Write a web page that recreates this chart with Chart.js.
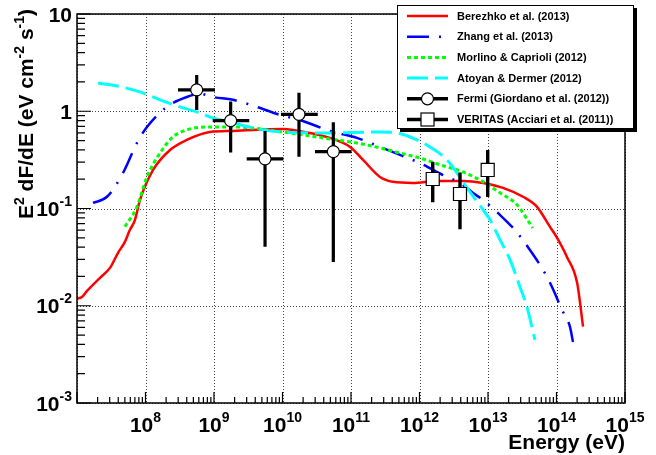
<!DOCTYPE html>
<html>
<head>
<meta charset="utf-8">
<script src="https://cdn.jsdelivr.net/npm/chart.js@4.4.1/dist/chart.umd.min.js"></script>
<style>
  html, body { margin: 0; padding: 0; background: #fff; }
  #wrap { width: 656px; height: 455px; }
</style>
</head>
<body>
<div id="wrap"><canvas id="sed" width="656" height="455"></canvas></div>
<script>
// Berezhko et al. (2013), solid red
const berezhkoE = [1e7, 1.18e7, 1.4e7, 2.17e7, 3.03e7, 3.97e7, 5.0e7, 5.9e7, 7.0e7, 8.3e7, 1.29e8, 2.28e8, 4.0e8, 8.7e8, 1.9e9, 1.0e10, 1.42e10, 4.9e10, 9.7e10, 1.5e11, 2.65e11, 4.1e11, 8.0e11, 1.8e12, 4.3e12, 8.5e12, 1.66e13, 3.24e13, 5.2e13, 8.0e13, 1.0e14, 1.42e14, 2.0e14, 2.44e14];
const berezhkoF = [0.0118, 0.0123, 0.0142, 0.0194, 0.0245, 0.035, 0.0454, 0.060, 0.076, 0.122, 0.249, 0.40, 0.507, 0.612, 0.628, 0.658, 0.643, 0.532, 0.43, 0.316, 0.211, 0.188, 0.183, 0.192, 0.192, 0.183, 0.163, 0.132, 0.104, 0.065, 0.051, 0.0318, 0.0172, 0.0061];

// Zhang et al. (2013), blue dash-dot
const zhangE = [1.71e7, 2.74e7, 4.7e7, 7.5e7, 1.05e8, 2.06e8, 4.0e8, 6.25e8, 9.7e8, 1.9e9, 4.2e9, 9.2e9, 1.8e10, 4.9e10, 1.22e11, 2.65e11, 5.2e11, 1.0e12, 2.2e12, 3.9e12, 6.0e12, 8.5e12, 1.35e13, 1.9e13, 2.48e13, 3.84e13, 6.35e13, 8.6e13, 1.2e14, 1.57e14, 1.74e14];
const zhangF = [0.114, 0.132, 0.232, 0.472, 0.69, 1.11, 1.40, 1.51, 1.40, 1.31, 1.11, 0.916, 0.814, 0.628, 0.532, 0.43, 0.356, 0.294, 0.221, 0.183, 0.145, 0.122, 0.092, 0.0728, 0.060, 0.040, 0.0234, 0.0156, 0.0091, 0.0061, 0.00425];

// Morlino & Caprioli (2012), green dotted
const morlinoE = [5.0e7, 7.5e7, 1.05e8, 1.63e8, 2.52e8, 4.0e8, 7.9e8, 1.9e9, 1.0e10, 4.9e10, 1.22e11, 2.65e11, 5.2e11, 1.0e12, 2.0e12, 4.3e12, 8.5e12, 1.5e13, 2.65e13, 4.5e13];
const morlinoF = [0.065, 0.104, 0.211, 0.372, 0.545, 0.643, 0.69, 0.69, 0.612, 0.519, 0.472, 0.42, 0.372, 0.331, 0.281, 0.238, 0.188, 0.145, 0.109, 0.063];

// Atoyan & Dermer (2012), cyan long dash
const atoyanE = [2.03e7, 3.84e7, 8.3e7, 1.63e8, 3.19e8, 6.25e8, 9.7e8, 1.9e9, 3.7e9, 1.0e10, 4.9e10, 2.65e11, 4.7e11, 9.2e11, 1.42e12, 2.52e12, 3.52e12, 5.45e12, 8.5e12, 1.07e13, 1.5e13, 2.1e13, 2.93e13, 3.7e13, 4.85e13];
const atoyanF = [1.95, 1.82, 1.58, 1.31, 1.11, 0.96, 0.853, 0.759, 0.673, 0.612, 0.598, 0.612, 0.598, 0.507, 0.43, 0.316, 0.232, 0.148, 0.0968, 0.0764, 0.0476, 0.0296, 0.0156, 0.00975, 0.00446];

// Fermi points (Giordano et al. 2012)
const fermiE = [5.59e8, 1.75e9, 5.56e9, 1.74e10, 5.52e10];
const fermiElo = [2.98e8, 9.57e8, 3.0e9, 9.5e9, 2.98e10];
const fermiEhi = [1.035e9, 3.27e9, 1.03e10, 3.27e10, 1.02e11];
const fermiF = [1.66, 0.80, 0.324, 0.93, 0.385];
const fermiFlo = [1.03, 0.376, 0.0405, 0.341, 0.0281];
const fermiFhi = [2.36, 1.26, 0.628, 1.55, 0.771];

// VERITAS points (Acciari et al. 2011)
const veritasE = [1.56e12, 3.9e12, 9.9e12];
const veritasF = [0.201, 0.141, 0.249];
const veritasFlo = [0.116, 0.0612, 0.131];
const veritasFhi = [0.303, 0.234, 0.40];

// axis decades
const xExps = [7, 8, 9, 10, 11, 12, 13, 14, 15];
const xLabelExps = [8, 9, 10, 11, 12, 13, 14, 15];
const yExps = [-3, -2, -1, 0, 1];

const legendLabels = ['Berezhko et al. (2013)', 'Zhang et al. (2013)', 'Morlino & Caprioli (2012)',
  'Atoyan & Dermer (2012)', 'Fermi (Giordano et al. (2012))', 'VERITAS (Acciari et al. (2011))'];

const FONT = '"Liberation Sans", Arial, Helvetica, sans-serif';

function pairs(xs, ys) {
  return xs.map((x, i) => ({ x: x, y: ys[i] }));
}

// error bars as broken line segments (null y breaks the line)
function errorSegments(xs, xlo, xhi, ys, ylo, yhi) {
  const pts = [];
  xs.forEach((x, i) => {
    if (xlo) {
      pts.push({ x: xlo[i], y: ys[i] }, { x: xhi[i], y: ys[i] }, { x: x, y: null });
    }
    pts.push({ x: x, y: ylo[i] }, { x: x, y: yhi[i] }, { x: x, y: null });
  });
  return pts;
}

function drawRuns(ctx, runs, x, y, align) {
  let w = 0;
  runs.forEach(r => {
    ctx.font = 'bold ' + r.size + 'px ' + FONT;
    r.w = ctx.measureText(r.t).width;
    w += r.w;
  });
  let cx = x;
  if (align === 'right') cx = x - w;
  if (align === 'center') cx = x - w / 2;
  runs.forEach(r => {
    ctx.font = 'bold ' + r.size + 'px ' + FONT;
    ctx.fillText(r.t, cx, y - (r.up || 0));
    cx += r.w;
  });
  return w;
}

function powRuns(e) {
  if (e === 0) return [{ t: '1', size: 21 }];
  if (e === 1) return [{ t: '10', size: 21 }];
  return [{ t: '10', size: 21 }, { t: String(e), size: 14, up: 10 }];
}

const gridPlugin = {
  id: 'rootGrid',
  beforeDatasetsDraw(chart) {
    const ctx = chart.ctx, a = chart.chartArea;
    const xs = chart.scales.x, ys = chart.scales.y;
    ctx.save();
    ctx.strokeStyle = '#444';
    ctx.lineWidth = 1;
    ctx.setLineDash([1, 2]);
    xExps.forEach(e => {
      const px = Math.round(xs.getPixelForValue(Math.pow(10, e))) + 0.5;
      ctx.beginPath(); ctx.moveTo(px, a.top); ctx.lineTo(px, a.bottom); ctx.stroke();
    });
    yExps.forEach(e => {
      const py = Math.round(ys.getPixelForValue(Math.pow(10, e))) + 0.5;
      ctx.beginPath(); ctx.moveTo(a.left, py); ctx.lineTo(a.right, py); ctx.stroke();
    });
    ctx.restore();
  },
  afterDatasetsDraw(chart) {
    const ctx = chart.ctx, a = chart.chartArea;
    const xs = chart.scales.x, ys = chart.scales.y;
    ctx.save();
    // frame
    ctx.strokeStyle = '#000';
    ctx.lineWidth = 1.5;
    ctx.strokeRect(a.left, a.top, a.right - a.left, a.bottom - a.top);

    // ticks
    ctx.lineWidth = 1.2;
    ctx.beginPath();
    xExps.forEach(e => {
      for (let m = 1; m <= 9; m++) {
        const v = m * Math.pow(10, e);
        if (v < xs.min || v > xs.max) continue;
        const px = xs.getPixelForValue(v);
        const len = m === 1 ? 11 : 6;
        ctx.moveTo(px, a.bottom); ctx.lineTo(px, a.bottom - len);
      }
    });
    yExps.forEach(e => {
      for (let m = 1; m <= 9; m++) {
        const v = m * Math.pow(10, e);
        if (v < ys.min || v > ys.max * 1.0001) continue;
        const py = ys.getPixelForValue(v);
        const len = m === 1 ? 14 : 8;
        ctx.moveTo(a.left, py); ctx.lineTo(a.left + len, py);
      }
    });
    ctx.stroke();

    // tick labels
    ctx.fillStyle = '#000';
    ctx.textBaseline = 'alphabetic';
    xLabelExps.forEach(e => {
      const px = xs.getPixelForValue(Math.pow(10, e));
      drawRuns(ctx, powRuns(e), px, a.bottom + 29, 'center');
    });
    yExps.forEach(e => {
      const py = ys.getPixelForValue(Math.pow(10, e));
      drawRuns(ctx, powRuns(e), a.left - 5, py + 7.5, 'right');
    });

    // axis titles
    drawRuns(ctx, [{ t: 'Energy (eV)', size: 21 }], a.right, 449, 'right');
    const yTitle = [
      { t: 'E', size: 21 }, { t: '2', size: 14, up: 9 },
      { t: ' dF/dE (eV cm', size: 21 }, { t: '-2', size: 14, up: 9 },
      { t: ' s', size: 21 }, { t: '-1', size: 14, up: 9 }, { t: ')', size: 21 }
    ];
    let tw = 0;
    yTitle.forEach(r => { ctx.font = 'bold ' + r.size + 'px ' + FONT; tw += ctx.measureText(r.t).width; });
    ctx.save();
    ctx.translate(33, 9 + tw);
    ctx.rotate(-Math.PI / 2);
    drawRuns(ctx, yTitle, 0, 0, 'left');
    ctx.restore();

    // legend box
    const bx = 397, by = 5, bw = 236, bh = 123;
    ctx.fillStyle = '#000';
    ctx.fillRect(bx + 3, by + 3, bw + 1, bh + 1);
    ctx.fillStyle = '#fff';
    ctx.fillRect(bx, by, bw, bh);
    ctx.strokeStyle = '#000';
    ctx.lineWidth = 1;
    ctx.strokeRect(bx + 0.5, by + 0.5, bw, bh);

    const styles = [
      { color: '#ff0000', width: 2.5, dash: [] },
      { color: '#0000ff', width: 2.5, dash: [22, 10, 2, 10] },
      { color: '#00ff00', width: 3, dash: [4, 3] },
      { color: '#00ffff', width: 3, dash: [21, 7] },
      { color: '#000', width: 3.5, dash: [], marker: 'circle' },
      { color: '#000', width: 3.5, dash: [], marker: 'square' }
    ];
    styles.forEach((s, i) => {
      const ry = 16 + i * 20.7;
      ctx.save();
      ctx.strokeStyle = s.color;
      ctx.lineWidth = s.width;
      ctx.setLineDash(s.dash);
      ctx.beginPath(); ctx.moveTo(407, ry); ctx.lineTo(448, ry); ctx.stroke();
      ctx.setLineDash([]);
      if (s.marker === 'circle') {
        ctx.fillStyle = '#fff'; ctx.lineWidth = 1.2;
        ctx.beginPath(); ctx.arc(427.5, ry, 6, 0, Math.PI * 2); ctx.fill(); ctx.stroke();
      } else if (s.marker === 'square') {
        ctx.fillStyle = '#fff'; ctx.lineWidth = 1.2;
        ctx.fillRect(421, ry - 6.5, 13, 13); ctx.strokeRect(421, ry - 6.5, 13, 13);
      }
      ctx.restore();
      ctx.fillStyle = '#000';
      ctx.font = 'bold 11px ' + FONT;
      ctx.textBaseline = 'middle';
      ctx.fillText(legendLabels[i], 457, ry + 0.5);
      ctx.textBaseline = 'alphabetic';
    });
    ctx.restore();
  }
};

const curve = (data, color, width, dash, order) => ({
  data: data, borderColor: color, borderWidth: width, borderDash: dash,
  pointRadius: 0, fill: false, showLine: true, cubicInterpolationMode: 'monotone', order: order
});

new Chart(document.getElementById('sed'), {
  type: 'scatter',
  data: {
    datasets: [
      {
        data: pairs(fermiE, fermiF), pointStyle: 'circle', pointRadius: 6,
        pointBackgroundColor: '#fff', pointBorderColor: '#000', pointBorderWidth: 1.2, order: 0
      },
      {
        data: pairs(veritasE, veritasF), pointStyle: 'rect', pointRadius: 9.2,
        pointBackgroundColor: '#fff', pointBorderColor: '#000', pointBorderWidth: 1.2, order: 0
      },
      {
        data: errorSegments(fermiE, fermiElo, fermiEhi, fermiF, fermiFlo, fermiFhi),
        showLine: true, borderColor: '#000', borderWidth: 3.2, pointRadius: 0, spanGaps: false, order: 1
      },
      {
        data: errorSegments(veritasE, null, null, veritasF, veritasFlo, veritasFhi),
        showLine: true, borderColor: '#000', borderWidth: 3.4, pointRadius: 0, spanGaps: false, order: 1
      },
      curve(pairs(atoyanE, atoyanF), '#00ffff', 3, [21, 7], 2),
      curve(pairs(morlinoE, morlinoF), '#00ff00', 3, [4, 3], 3),
      curve(pairs(zhangE, zhangF), '#0000ff', 2.5, [22, 10, 2, 10], 4),
      curve(pairs(berezhkoE, berezhkoF), '#ff0000', 2.5, [], 5)
    ]
  },
  options: {
    responsive: false,
    animation: false,
    layout: { padding: { left: 77, right: 31, top: 14, bottom: 52 } },
    scales: {
      x: { type: 'logarithmic', min: 1e7, max: 1e15, display: false },
      y: { type: 'logarithmic', min: 1e-3, max: 10, display: false }
    },
    plugins: { legend: { display: false }, tooltip: { enabled: false } }
  },
  plugins: [gridPlugin]
});
</script>
</body>
</html>
